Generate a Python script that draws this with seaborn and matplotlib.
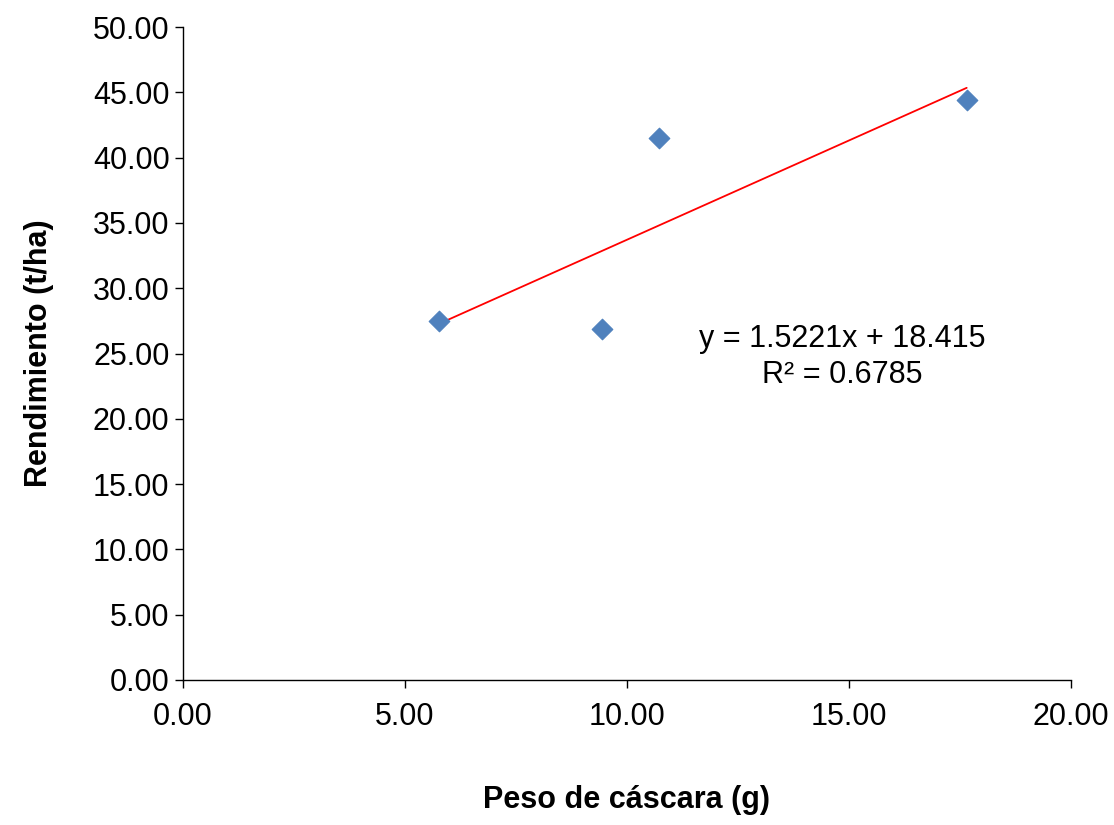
import numpy as np
import pandas as pd
import seaborn as sns
import matplotlib.pyplot as plt

peso = [5.77, 9.44, 10.72, 17.66]
rendimiento = [27.49, 26.88, 41.50, 44.41]

sns.set_theme(style="white")
plt.rcParams['font.family'] = ['Liberation Sans', 'DejaVu Sans']
plt.rcParams['text.color'] = 'black'

df = pd.DataFrame({'peso': peso, 'rend': rendimiento})

fig = plt.figure(figsize=(11.14, 8.25), dpi=100)
ax = fig.add_axes([0.164, 0.176, 0.797, 0.791])

# trend line from least squares fit
m, b = np.polyfit(df.peso, df.rend, 1)
xs = np.array([df.peso.min(), df.peso.max()])
sns.lineplot(x=xs, y=m * xs + b, color='red', linewidth=1.3, ax=ax)
sns.scatterplot(data=df, x='peso', y='rend', marker='D', s=110, color='#4F81BD',
                edgecolor='#4F81BD', ax=ax, zorder=3)

ax.set_xlim(0, 20)
ax.set_ylim(0, 50)
ax.set_xticks(np.arange(0, 20.1, 5))
ax.set_yticks(np.arange(0, 50.1, 5))
ax.xaxis.set_major_formatter(lambda v, p: f'{v:.2f}')
ax.yaxis.set_major_formatter(lambda v, p: f'{v:.2f}')
ax.tick_params(axis='both', labelsize=22, direction='out', length=6, width=1,
               bottom=True, left=True, colors='black')
ax.tick_params(axis='x', pad=10)
for s in ['top', 'right']:
    ax.spines[s].set_visible(False)
for s in ['left', 'bottom']:
    ax.spines[s].set_color('black')
    ax.spines[s].set_linewidth(1)

ax.set_xlabel('Peso de cáscara (g)', fontsize=22, fontweight='bold', labelpad=38, color='black')
ax.set_ylabel('Rendimiento (t/ha)', fontsize=22, fontweight='bold', labelpad=28, color='black')

ax.text(0.743, 0.495, 'y = 1.5221x + 18.415\nR² = 0.6785', transform=ax.transAxes,
        fontsize=22, ha='center', va='center', linespacing=1.25, color='black')

fig.savefig('out.png', dpi=100)
